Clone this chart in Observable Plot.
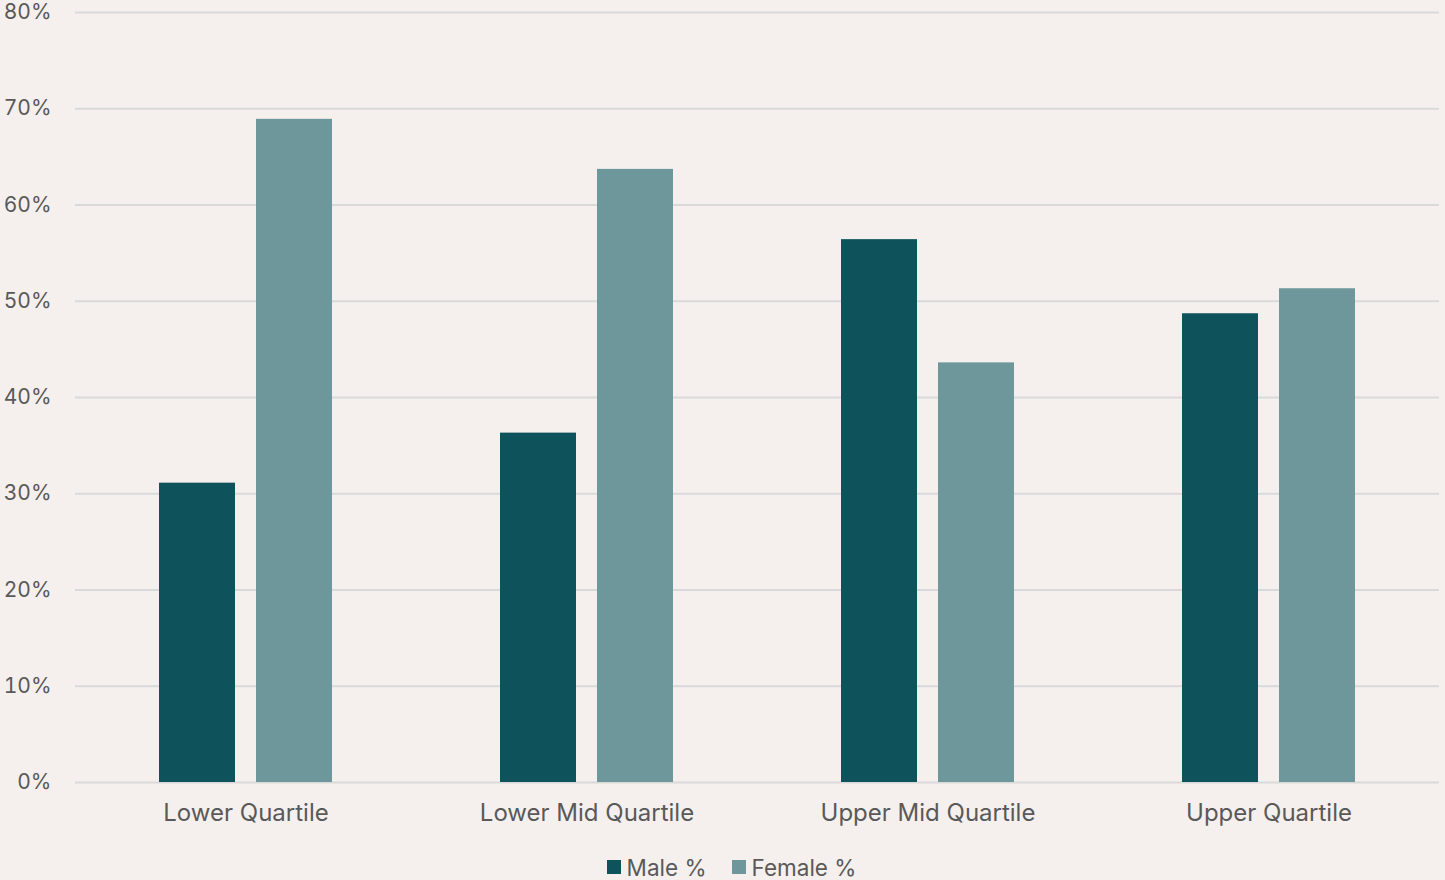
<!DOCTYPE html>
<html>
<head>
<meta charset="utf-8">
<script src="https://cdn.jsdelivr.net/npm/d3@7"></script>
<script src="https://cdn.jsdelivr.net/npm/@observablehq/plot@0.6"></script>
<style>
  html, body { margin: 0; padding: 0; background: #f5f0ee; }
  body { width: 1445px; height: 880px; overflow: hidden; font-family: Inter, "Noto Sans", sans-serif; }
  #legend { display: flex; justify-content: center; align-items: center; gap: 25px; height: 54px; font-size: 22.5px; color: #595959; margin-left: 18px; }
  #legend .item { display: flex; align-items: center; gap: 6px; }
  #legend .sw { width: 14px; height: 14px; display: inline-block; }
</style>
</head>
<body>
<div id="chart"></div>
<div id="legend"></div>
<script>
const categories = ["Lower Quartile", "Lower Mid Quartile", "Upper Mid Quartile", "Upper Quartile"];
const seriesNames = ["Male %", "Female %"];
const maleValues = [31.1, 36.3, 56.4, 48.7];
const femaleValues = [68.9, 63.7, 43.6, 51.3];
const yTicks = [0, 10, 20, 30, 40, 50, 60, 70, 80];
const colors = ["#0e525b", "#6e979b"];

const data = [];
categories.forEach((c, i) => {
  data.push({category: c, series: seriesNames[0], value: maleValues[i]});
  data.push({category: c, series: seriesNames[1], value: femaleValues[i]});
});

const chart = Plot.plot({
  width: 1445,
  height: 840,
  marginLeft: 74,
  marginRight: 5,
  marginTop: 12,
  marginBottom: 58,
  style: {background: "transparent", fontFamily: "Inter, 'Noto Sans', sans-serif", fontSize: "21px", color: "#595959"},
  fx: {domain: categories, padding: 0, label: null},
  x: {domain: seriesNames, paddingInner: 0.214, paddingOuter: 0.85, axis: null},
  y: {domain: [0, 80], ticks: yTicks, label: null},
  color: {domain: seriesNames, range: colors},
  marks: [
    Plot.ruleY(yTicks, {stroke: "#d9d9d9", strokeWidth: 2}),
    Plot.barY(data, {fx: "category", x: "series", y: "value", fill: "series"}),
    Plot.axisY({ticks: yTicks, tickSize: 0, tickPadding: 24, tickFormat: d => d + "%", label: null, fill: "#595959"}),
    Plot.axisFx({anchor: "bottom", tickSize: 0, tickPadding: 21, fontSize: 24, label: null, fill: "#595959"})
  ]
});
document.getElementById("chart").appendChild(chart);

const legend = document.getElementById("legend");
seriesNames.forEach((s, i) => {
  const item = document.createElement("div");
  item.className = "item";
  const sw = document.createElement("span");
  sw.className = "sw";
  sw.style.background = colors[i];
  const t = document.createElement("span");
  t.textContent = s;
  item.appendChild(sw);
  item.appendChild(t);
  legend.appendChild(item);
});
</script>
</body>
</html>
